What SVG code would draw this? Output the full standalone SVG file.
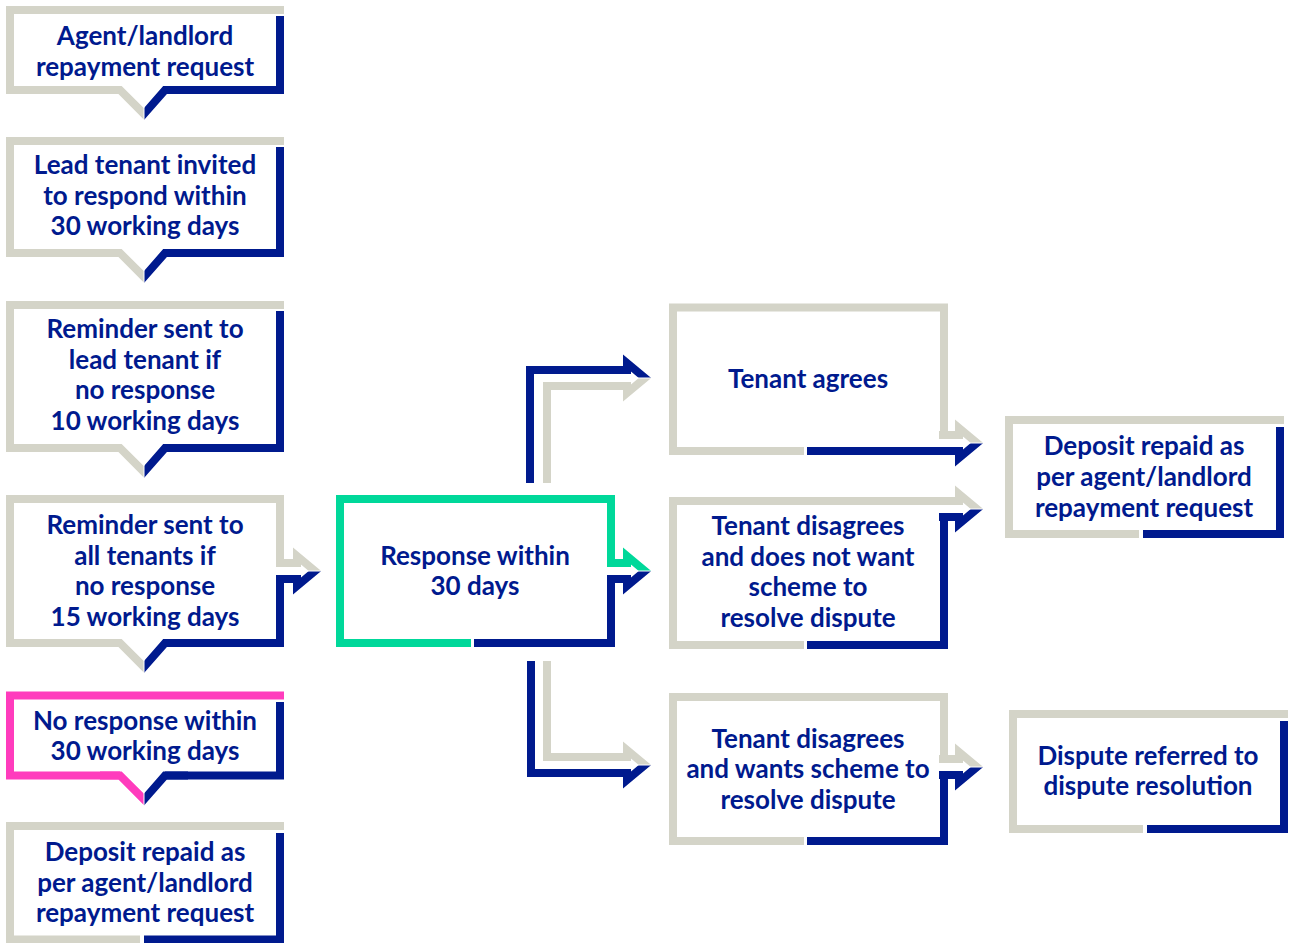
<svg xmlns="http://www.w3.org/2000/svg" xmlns:xlink="http://www.w3.org/1999/xlink" width="1289" height="943" viewBox="0 0 1289 943">
<style>
path{fill:none;stroke-width:8;stroke-linejoin:miter;stroke-miterlimit:10}
.g{stroke:#d4d4c8}
.n{stroke:#001a8e}
.gr{stroke:#00d89a}
.p{stroke:#ff3cbd}
text{font-family:Lato,"Noto Sans",sans-serif;font-weight:700;font-size:26px;fill:#001a8e;text-anchor:middle}
</style>
<defs>
<clipPath id="cu"><rect x="-40" y="-40" width="80" height="39.5"/></clipPath>
<clipPath id="cd"><rect x="-40" y="0.5" width="80" height="40"/></clipPath>
<clipPath id="pl"><rect x="-80" y="-40" width="79.5" height="60"/></clipPath>
<clipPath id="pr"><rect x="0.5" y="-40" width="80" height="60"/></clipPath>
<path id="hu" d="M-20,-8 H0 V-15 L24,5" clip-path="url(#cu)"/>
<path id="hd" d="M-20,8 H0 V15 L24,-5" clip-path="url(#cd)"/>
<path id="ptl" d="M-44,-24 H-24 L8,8" clip-path="url(#pl)"/>
<path id="ptr" d="M44,-24 H21 L-8,9.1" clip-path="url(#pr)"/>
</defs>

<g id="n1">
<path class="g" d="M284,10 H10 V90 H120"/><use href="#ptl" class="g" x="144" y="114"/>
<path class="n" d="M280,16 V90 H165"/><use href="#ptr" class="n" x="144" y="114"/>
<text x="145" y="45">Agent/landlord</text>
<text x="145" y="76">repayment request</text>
</g>

<g id="n2">
<path class="g" d="M284,141 H10 V253 H120"/><use href="#ptl" class="g" x="144" y="277"/>
<path class="n" d="M280,147 V253 H165"/><use href="#ptr" class="n" x="144" y="277"/>
<text x="145" y="174">Lead tenant invited</text>
<text x="145" y="205">to respond within</text>
<text x="145" y="235">30 working days</text>
</g>

<g id="n3">
<path class="g" d="M284,305 H10 V448 H120"/><use href="#ptl" class="g" x="144" y="472"/>
<path class="n" d="M280,311 V448 H165"/><use href="#ptr" class="n" x="144" y="472"/>
<text x="145" y="338">Reminder sent to</text>
<text x="145" y="369">lead tenant if</text>
<text x="145" y="399">no response</text>
<text x="145" y="430">10 working days</text>
</g>

<g id="n4">
<path class="g" d="M120,643 H10 V499 H280 V563 H297"/><use href="#ptl" class="g" x="144" y="667"/>
<path class="n" d="M297,579 H280 V643 H165"/><use href="#ptr" class="n" x="144" y="667"/>
<text x="145" y="534">Reminder sent to</text>
<text x="145" y="565">all tenants if</text>
<text x="145" y="595">no response</text>
<text x="145" y="626">15 working days</text>
</g>

<g id="n5">
<path class="p" d="M284,695.5 H10 V775.5 H120"/><use href="#ptl" class="p" x="144" y="799.5"/>
<path class="n" d="M280,702 V775.5 H165"/><use href="#ptr" class="n" x="144" y="799.5"/>
<text x="145" y="730">No response within</text>
<text x="145" y="760">30 working days</text>
</g>

<g id="n6">
<path class="g" d="M284,826 H10 V939.5 H140"/>
<path class="n" d="M280,833 V939.5 H144"/>
<text x="145" y="861">Deposit repaid as</text>
<text x="145" y="892">per agent/landlord</text>
<text x="145" y="922">repayment request</text>
</g>

<g id="response">
<path class="gr" d="M471,643 H340 V499 H611 V563 H627"/>
<path class="n" d="M474,643 H611 V579 H627"/>
<text x="475" y="565">Response within</text>
<text x="475" y="595">30 days</text>
</g>

<g id="agrees">
<path class="g" d="M804,451 H673 V307.5 H944 V435 H959"/>
<path class="n" d="M807,451 H959"/>
<text x="808" y="388">Tenant agrees</text>
</g>

<g id="disagree-no">
<path class="g" d="M804,645 H673 V501 H959"/>
<path class="n" d="M807,645 H944 V517 H959"/>
<text x="808" y="535">Tenant disagrees</text>
<text x="808" y="566">and does not want</text>
<text x="808" y="596">scheme to</text>
<text x="808" y="627">resolve dispute</text>
</g>

<g id="disagree-yes">
<path class="g" d="M804,841 H673 V697 H944 V759 H959"/>
<path class="n" d="M807,841 H944 V775 H959"/>
<text x="808" y="748">Tenant disagrees</text>
<text x="808" y="778">and wants scheme to</text>
<text x="808" y="809">resolve dispute</text>
</g>

<g id="repaid">
<path class="g" d="M1139,534 H1009 V420 H1284"/>
<path class="n" d="M1280,427 V534 H1143"/>
<text x="1144" y="455">Deposit repaid as</text>
<text x="1144" y="486">per agent/landlord</text>
<text x="1144" y="517">repayment request</text>
</g>

<g id="dispute">
<path class="g" d="M1143,829 H1013 V714 H1288"/>
<path class="n" d="M1284,721 V829 H1147"/>
<text x="1148" y="765">Dispute referred to</text>
<text x="1148" y="795">dispute resolution</text>
</g>

<g id="connectors">
<use href="#hu" class="g" x="297" y="571"/>
<use href="#hd" class="n" x="297" y="571"/>
<use href="#hu" class="gr" x="627" y="571"/>
<use href="#hd" class="n" x="627" y="571"/>
<path class="n" d="M530,483 V370 H627"/><use href="#hu" class="n" x="627" y="378"/>
<path class="g" d="M547,483 V386 H627"/><use href="#hd" class="g" x="627" y="378"/>
<path class="n" d="M531,661 V773 H627"/><use href="#hd" class="n" x="627" y="765"/>
<path class="g" d="M547,661 V757 H627"/><use href="#hu" class="g" x="627" y="765"/>
<use href="#hu" class="g" x="959" y="443"/>
<use href="#hd" class="n" x="959" y="443"/>
<use href="#hu" class="g" x="959" y="509"/>
<use href="#hd" class="n" x="959" y="509"/>
<use href="#hu" class="g" x="959" y="767"/>
<use href="#hd" class="n" x="959" y="767"/>
</g>
</svg>
